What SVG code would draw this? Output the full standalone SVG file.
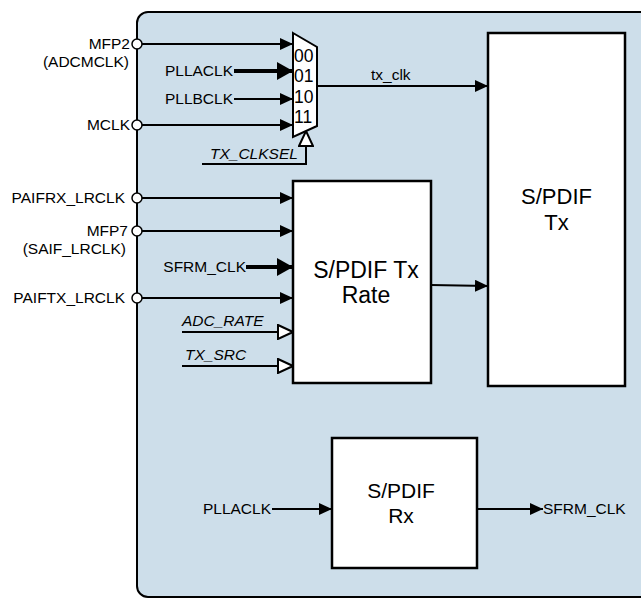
<svg xmlns="http://www.w3.org/2000/svg" width="641" height="598" viewBox="0 0 641 598">
<defs>
<style>
text{font-family:"Liberation Sans",Arial,sans-serif;fill:#000}
.lbl{font-size:15.5px}
.it{font-size:15.5px;font-style:italic}
.sel{font-size:17.5px}
.big{font-size:22px;text-anchor:middle}
.end{text-anchor:end}
.w{stroke:#000;stroke-width:2;fill:none}
.t{stroke:#000;stroke-width:4;fill:none}
.box{fill:#fff;stroke:#000;stroke-width:2.5}
.pin{fill:#fff;stroke:#000;stroke-width:1.5}
</style>
<marker id="a" markerUnits="userSpaceOnUse" markerWidth="13" markerHeight="12" refX="13" refY="6" orient="auto">
<path d="M0,0 L13,6 L0,12 z" fill="#000"/>
</marker>
<marker id="ab" markerUnits="userSpaceOnUse" markerWidth="16" markerHeight="18" refX="16" refY="9" orient="auto">
<path d="M0,0 L16,9 L0,18 z" fill="#000"/>
</marker>
<marker id="h" markerUnits="userSpaceOnUse" markerWidth="17" markerHeight="16" refX="16" refY="8" orient="auto">
<path d="M1,1 L16,8 L1,15 z" fill="#fff" stroke="#000" stroke-width="2"/>
</marker>
</defs>
<rect id="panel" x="137" y="12" width="530" height="585" rx="11" fill="#cddeea" stroke="#000" stroke-width="2"/>

<g id="connectors">
<line class="w" x1="137" y1="44" x2="293" y2="44" marker-end="url(#a)"/>
<line class="t" x1="234" y1="71" x2="293" y2="71" marker-end="url(#ab)"/>
<line class="w" x1="234" y1="99" x2="293" y2="99" marker-end="url(#a)"/>
<line class="w" x1="137" y1="125" x2="293" y2="125" marker-end="url(#a)"/>
<polyline class="w" points="202,164 306,164 306,131" marker-end="url(#h)"/>
<line class="w" x1="317" y1="86" x2="488" y2="86" marker-end="url(#a)"/>
<line class="w" x1="137" y1="198" x2="293" y2="198" marker-end="url(#a)"/>
<line class="w" x1="137" y1="231" x2="293" y2="231" marker-end="url(#a)"/>
<line class="t" x1="246" y1="267" x2="293" y2="267" marker-end="url(#ab)"/>
<line class="w" x1="137" y1="298" x2="293" y2="298" marker-end="url(#a)"/>
<line class="w" x1="182" y1="332" x2="293" y2="332" marker-end="url(#h)"/>
<line class="w" x1="182" y1="366" x2="293" y2="366" marker-end="url(#h)"/>
<line class="w" x1="431" y1="285" x2="488" y2="286" marker-end="url(#a)"/>
<line class="w" x1="272" y1="509" x2="332" y2="509" marker-end="url(#a)"/>
<line class="w" x1="477" y1="509" x2="543" y2="509" marker-end="url(#a)"/>
</g>

<g id="pins">
<circle class="pin" cx="137" cy="44" r="5"/>
<circle class="pin" cx="137" cy="125" r="5"/>
<circle class="pin" cx="137" cy="198" r="5"/>
<circle class="pin" cx="137" cy="231" r="5"/>
<circle class="pin" cx="137" cy="298" r="5"/>
</g>

<g id="mux">
<polygon points="293,33 317,47 317,126 293,137" fill="#fff" stroke="#000" stroke-width="2"/>
<text class="sel" x="294" y="62">00</text>
<text class="sel" x="294" y="82">01</text>
<text class="sel" x="294" y="103">10</text>
<text class="sel" x="294" y="123">11</text>
</g>

<g id="spdif-tx">
<rect class="box" x="488" y="33" width="137" height="353"/>
<text class="big" x="556.5" y="204">S/PDIF</text>
<text class="big" x="556.5" y="230">Tx</text>
</g>

<g id="spdif-tx-rate">
<rect class="box" x="293" y="181" width="138" height="202"/>
<text class="big" x="366" y="278" style="font-size:23px">S/PDIF Tx</text>
<text class="big" x="366" y="303" style="font-size:23px">Rate</text>
</g>

<g id="spdif-rx">
<rect class="box" x="332" y="438" width="145" height="130"/>
<text class="big" x="401" y="498" style="font-size:21px">S/PDIF</text>
<text class="big" x="401" y="523" style="font-size:21px">Rx</text>
</g>

<g id="labels">
<text class="lbl end" x="130" y="49">MFP2</text>
<text class="lbl end" x="129" y="67">(ADCMCLK)</text>
<text class="lbl end" x="233" y="76">PLLACLK</text>
<text class="lbl end" x="233" y="104">PLLBCLK</text>
<text class="lbl end" x="130" y="130">MCLK</text>
<text class="it" x="210" y="159">TX_CLKSEL</text>
<text class="lbl" x="371" y="80">tx_clk</text>
<text class="lbl end" x="125" y="203">PAIFRX_LRCLK</text>
<text class="lbl end" x="128" y="236">MFP7</text>
<text class="lbl end" x="126" y="254">(SAIF_LRCLK)</text>
<text class="lbl end" x="246" y="272">SFRM_CLK</text>
<text class="lbl end" x="125" y="303">PAIFTX_LRCLK</text>
<text class="it" x="182" y="326">ADC_RATE</text>
<text class="it" x="185" y="360">TX_SRC</text>
<text class="lbl end" x="271" y="514">PLLACLK</text>
<text class="lbl" x="543" y="514">SFRM_CLK</text>
</g>
</svg>
